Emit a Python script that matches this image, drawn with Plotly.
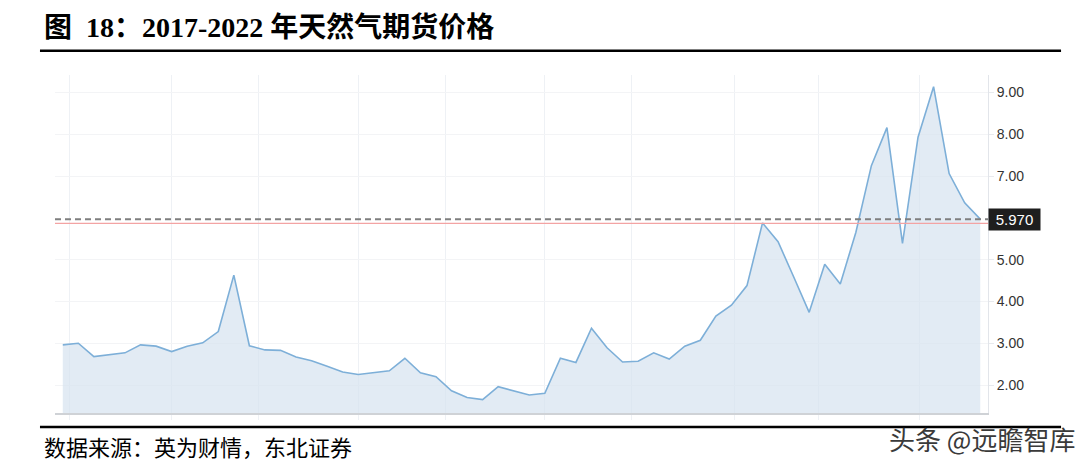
import plotly.graph_objects as go

# monthly natural gas futures prices, 2017-2022
months = list(range(60))
price = [2.96, 3.00, 2.68, 2.73, 2.77, 2.96, 2.93, 2.80, 2.93, 3.01,
         3.28, 4.63, 2.94, 2.84, 2.83, 2.67, 2.58, 2.45, 2.31, 2.25,
         2.29, 2.34, 2.64, 2.29, 2.20, 1.86, 1.70, 1.65, 1.96, 1.86,
         1.76, 1.80, 2.64, 2.54, 3.36, 2.89, 2.55, 2.57, 2.77, 2.62,
         2.93, 3.07, 3.65, 3.91, 4.38, 5.88, 5.43, 4.59, 3.74, 4.89,
         4.42, 5.65, 7.25, 8.16, 5.39, 7.93, 9.14, 7.06, 6.36, 5.97]
last_price = 5.970
ref_level = 5.87
y_ticks = [2, 3, 4, 5, 7, 8, 9]
y_tick_text = ["2.00", "3.00", "4.00", "5.00", "7.00", "8.00", "9.00"]
x_grid = [0.45, 7.0, 12.6, 19.0, 24.6, 31.0, 36.6, 43.2, 48.6, 55.1]

fig = go.Figure()
fig.add_trace(go.Scatter(
    x=months, y=price, mode="lines", fill="tozeroy",
    line=dict(color="#7dafd8", width=1.6),
    fillcolor="rgba(214,227,240,0.7)",
    hoverinfo="skip", showlegend=False,
))

# page has an 8px body margin, so the figure is 16px smaller than the window
fig.update_layout(
    width=1075, height=454,
    margin=dict(l=47, r=95, t=67, b=49),
    paper_bgcolor="white", plot_bgcolor="white",
    xaxis=dict(range=[-0.5, 59.5], tickvals=x_grid, showticklabels=False,
               showgrid=True, gridcolor="#eef1f5", gridwidth=1,
               showline=True, linecolor="#cfd2d6", linewidth=1.5,
               ticks="outside", ticklen=5, tickcolor="#eef1f5", zeroline=False),
    yaxis=dict(range=[1.33, 9.42], side="right", tickvals=y_ticks, ticktext=y_tick_text,
               showgrid=True, gridcolor="#f3f4f6", gridwidth=1,
               showline=True, linecolor="#e2e5ea", linewidth=1,
               ticks="outside", ticklen=5, tickcolor="#e8eaee",
               tickfont=dict(family="Liberation Sans, Arial", size=14, color="#333333"),
               zeroline=False),
)

# reference lines
fig.add_shape(type="line", xref="paper", yref="y", x0=0, x1=1, y0=ref_level, y1=ref_level,
              line=dict(color="#f3a3a3", width=1.2))
fig.add_shape(type="line", xref="paper", yref="y", x0=0, x1=1, y0=last_price, y1=last_price,
              line=dict(color="#7f7f7f", width=2, dash="6px,4px"))

# last price tag
fig.add_annotation(xref="paper", yref="y", x=1.0, y=last_price, xanchor="left", yanchor="middle",
                   text="5.970", showarrow=False, bgcolor="#1e1e1e", borderpad=2,
                   width=47, height=17,
                   font=dict(family="Liberation Sans, Arial", size=15, color="white"))

# title and rules
fig.add_annotation(xref="paper", yref="paper", x=-0.0135, y=1.142, xanchor="left", yanchor="middle",
                   text="<b>图  18：2017-2022 年天然气期货价格</b>", showarrow=False,
                   font=dict(family="Liberation Serif, Noto Sans CJK SC", size=28, color="black"))
fig.add_shape(type="line", xref="paper", yref="paper", x0=-0.0161, x1=1.0783, y0=1.0719, y1=1.0719,
              line=dict(color="black", width=2.5))
fig.add_shape(type="line", xref="paper", yref="paper", x0=-0.0161, x1=1.0783, y0=-0.0414, y1=-0.0414,
              line=dict(color="black", width=2.5))

# source and watermark
fig.add_annotation(xref="paper", yref="paper", x=-0.0135, y=-0.0976, xanchor="left", yanchor="middle",
                   text="数据来源：英为财情，东北证券", showarrow=False,
                   font=dict(family="Noto Sans CJK SC", size=22, color="black"))
fig.add_annotation(xref="paper", yref="paper", x=1.0954, y=-0.074, xanchor="right", yanchor="middle",
                   text="头条 @远瞻智库", showarrow=False,
                   font=dict(family="Noto Sans CJK SC", size=26, color="#3a3a3a"))

fig.write_html("out.html")
